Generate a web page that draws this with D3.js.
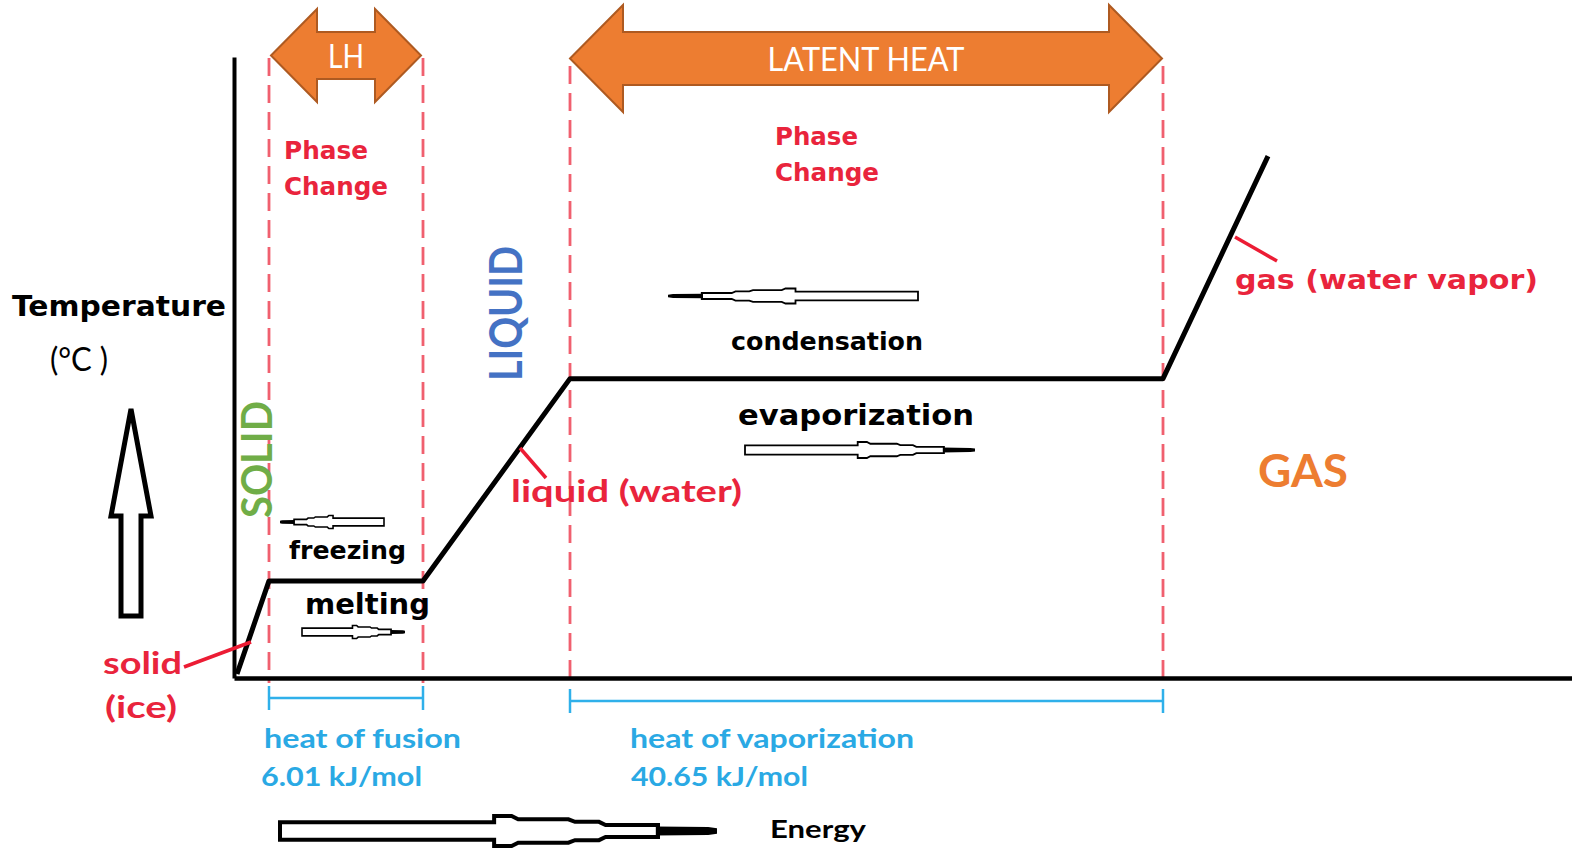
<!DOCTYPE html>
<html>
<head>
<meta charset="utf-8">
<script src="https://cdnjs.cloudflare.com/ajax/libs/d3/7.8.5/d3.min.js"></script>
<style>
  body { margin: 0; background: #fff; }
  svg { display: block; }
</style>
</head>
<body>
<div id="canvas"></div>
<script>
// heating curve of water (energy in arbitrary units, temperature in degC)
var energyPoints = [3, 35, 189, 336, 929, 1034];
var temperaturePoints = [-46, 0, 0, 100, 100, 210];

// energy values where the phase changes start / stop
var phaseBoundaries = [35, 189, 336, 929];

// latent heat bands
var bandLabels = ["LH", "LATENT HEAT"];
var bandStart = [35, 336];
var bandEnd = [189, 929];

// heat brackets under the axis
var heatNames = ["heat of fusion", "heat of vaporization"];
var heatValues = ["6.01 kJ/mol", "40.65 kJ/mol"];

var W = 1572, H = 848;
var RED = "#e9243c", BLUE_TXT = "#2aa9e4", ORANGE = "#ed7d31";
var VERDANA = "'DejaVu Sans', Verdana, sans-serif";
var CALIBRI = "Lato, 'Open Sans', sans-serif";

var svg = d3.select("#canvas").append("svg").attr("width", W).attr("height", H);
svg.append("rect").attr("width", W).attr("height", H).attr("fill", "#fff");

var x = d3.scaleLinear().domain([0, 1338]).range([234, 1572]);
var y = d3.scaleLinear().domain([-48, 259]).range([678, 57]);

// dashed phase-change guides
svg.selectAll("line.guide")
  .data(phaseBoundaries)
  .enter()
  .append("line")
  .attr("class", "guide")
  .attr("x1", d => x(d)).attr("x2", d => x(d))
  .attr("y1", (d, i) => i < 2 ? 58 : 66)
  .attr("y2", 683)
  .attr("stroke", "#f0606f")
  .attr("stroke-width", 2.8)
  .attr("stroke-dasharray", "18,9");

// axes, no ticks at all
svg.append("g")
  .attr("transform", `translate(${x(0)},0)`)
  .call(d3.axisLeft(y).tickValues([]).tickSizeOuter(0))
  .select(".domain").attr("stroke", "#000").attr("stroke-width", 4);
svg.append("g")
  .attr("transform", `translate(0,${y(-48)})`)
  .call(d3.axisBottom(x).tickValues([]).tickSizeOuter(0))
  .select(".domain").attr("stroke", "#000").attr("stroke-width", 4.5);

// the curve itself
var curve = d3.range(energyPoints.length).map(i => [x(energyPoints[i]), y(temperaturePoints[i])]);
svg.append("path")
  .attr("d", d3.line()(curve))
  .attr("fill", "none")
  .attr("stroke", "#000")
  .attr("stroke-width", 5)
  .attr("stroke-linejoin", "round");

// orange double arrows on top
bandLabels.forEach((label, i) => {
  var x0 = x(bandStart[i]) + (i == 0 ? 2 : 0), x1 = x(bandEnd[i]) - (i == 0 ? 2 : 1);
  var cy = i == 0 ? 55.5 : 58.5;
  var head = i == 0 ? 46 : 53;
  var shaft = i == 0 ? 23.5 : 26.5;
  var half = i == 0 ? 46.5 : 53.5;
  var pts = [
    [x0, cy], [x0 + head, cy - half], [x0 + head, cy - shaft], [x1 - head, cy - shaft],
    [x1 - head, cy - half], [x1, cy], [x1 - head, cy + half], [x1 - head, cy + shaft],
    [x0 + head, cy + shaft], [x0 + head, cy + half]
  ];
  svg.append("polygon")
    .attr("points", pts.map(p => p.join(",")).join(" "))
    .attr("fill", ORANGE)
    .attr("stroke", "#ae5a21")
    .attr("stroke-width", 2);
  svg.append("text")
    .attr("x", (x0 + x1) / 2)
    .attr("y", cy + 12)
    .attr("text-anchor", "middle")
    .attr("fill", "#fff")
    .style("font-family", CALIBRI)
    .style("font-size", "32px")
    .attr("textLength", i == 0 ? 36 : 197)
    .attr("lengthAdjust", "spacingAndGlyphs")
    .text(label);
});

// blue brackets for the heat values
heatNames.forEach((name, i) => {
  var x0 = x(bandStart[i]), x1 = x(bandEnd[i]);
  var by = i == 0 ? 698 : 701;
  var g = svg.append("g").attr("stroke", "#2fb0ea").attr("stroke-width", 2.5);
  g.append("line").attr("x1", x0).attr("x2", x1).attr("y1", by).attr("y2", by);
  g.append("line").attr("x1", x0).attr("x2", x0).attr("y1", by - 12).attr("y2", by + 12);
  g.append("line").attr("x1", x1).attr("x2", x1).attr("y1", by - 12).attr("y2", by + 12);
  label(name, i == 0 ? 264 : 630, 748, 27, BLUE_TXT, CALIBRI, i == 0 ? 197 : 284);
  label(heatValues[i], i == 0 ? 261 : 631, 786, 27, BLUE_TXT, CALIBRI, i == 0 ? 161 : 177);
});

// red leader lines to the curve
[[184, 667, 251, 642], [520, 448, 546, 478], [1235, 237, 1277, 261]].forEach(l => {
  svg.append("line")
    .attr("x1", l[0]).attr("y1", l[1]).attr("x2", l[2]).attr("y2", l[3])
    .attr("stroke", "#ec1c34").attr("stroke-width", 3.5);
});

// text labels
label("Phase", 284, 159, 25, RED, VERDANA, 84);
label("Change", 284, 195, 25, RED, VERDANA, 104);
label("Phase", 775, 145, 25, RED, VERDANA, 83);
label("Change", 775, 181, 25, RED, VERDANA, 104);
label("Temperature", 12, 316, 28, "#000", VERDANA, 214);
label("(°C )", 50, 371, 32, "#000", CALIBRI, 58, 400);
label("freezing", 289, 559, 24, "#000", VERDANA, 117);
label("melting", 305, 614, 28, "#000", VERDANA, 125);
label("condensation", 731, 350, 24, "#000", VERDANA, 192);
label("evaporization", 738, 425, 28, "#000", VERDANA, 236);
label("liquid (water)", 511, 502, 31, RED, CALIBRI, 231);
label("gas (water vapor)", 1235, 289, 27, RED, VERDANA, 303);
label("solid", 103, 674, 30, RED, CALIBRI, 79);
label("(ice)", 105, 718, 30, RED, CALIBRI, 72);
label("Energy", 770, 838, 25, "#000", CALIBRI, 96);
label("GAS", 1258, 487, 46, ORANGE, CALIBRI, 90);
vertical("LIQUID", 522, 381, 46, "#4472c4", 135);
vertical("SOLID", 272, 518, 42, "#70ad47", 117);

// hollow arrows
upArrow();
penArrow(280, 384, 522, 6.5, -1, 1.6);
penArrow(302, 405, 632, 6.5, 1, 1.6);
penArrow(668, 918, 296, 7.5, -1, 1.8);
penArrow(745, 975, 450, 8, 1, 1.8);
penArrow(280, 717, 831, 15, 1, 4);

function label(txt, lx, ly, size, color, family, width, weight) {
  return svg.append("text")
    .attr("x", lx).attr("y", ly)
    .attr("fill", color)
    .style("font-family", family)
    .style("font-size", size + "px")
    .style("font-weight", weight || 700)
    .attr("textLength", width)
    .attr("lengthAdjust", "spacingAndGlyphs")
    .text(txt);
}

function vertical(txt, vx, vy, size, color, width) {
  svg.append("text")
    .attr("transform", `translate(${vx},${vy}) rotate(-90)`)
    .attr("fill", color)
    .style("font-family", CALIBRI)
    .style("font-size", size + "px")
    .style("font-weight", 700)
    .attr("textLength", width)
    .attr("lengthAdjust", "spacingAndGlyphs")
    .text(txt);
}

function upArrow() {
  var pts = [[131, 409], [151, 516], [141, 516], [141, 616], [121, 616], [121, 516], [111, 516]];
  svg.append("polygon")
    .attr("points", pts.map(p => p.join(",")).join(" "))
    .attr("fill", "#fff")
    .attr("stroke", "#000")
    .attr("stroke-width", 5)
    .attr("stroke-linejoin", "miter");
}

// "pen" style arrow: hollow tail, little collar, stepped taper, black tip
function penArrow(xa, xb, ay, half, dir, sw) {
  var tail = dir > 0 ? xa : xb, len = (xb - xa) * dir;
  var prof = [[0, .59], [.49, .59], [.49, 1], [.53, 1], [.545, .78], [.66, .78], [.675, .61], [.73, .61], [.745, .4], [.865, .4]];
  var top = prof.map(p => [tail + p[0] * len, ay - p[1] * half]);
  var bottom = prof.slice().reverse().map(p => [tail + p[0] * len, ay + p[1] * half]);
  var g = svg.append("g");
  g.append("polygon")
    .attr("points", top.concat(bottom).map(p => p.join(",")).join(" "))
    .attr("fill", "#fff")
    .attr("stroke", "#000")
    .attr("stroke-width", sw)
    .attr("stroke-linejoin", "miter");
  var tip = [[.86, -.3], [.98, -.26], [1, -.18], [1, .18], [.98, .26], [.86, .3]];
  g.append("polygon")
    .attr("points", tip.map(p => [tail + p[0] * len, ay + p[1] * half].join(",")).join(" "))
    .attr("fill", "#000");
}
</script>
</body>
</html>
